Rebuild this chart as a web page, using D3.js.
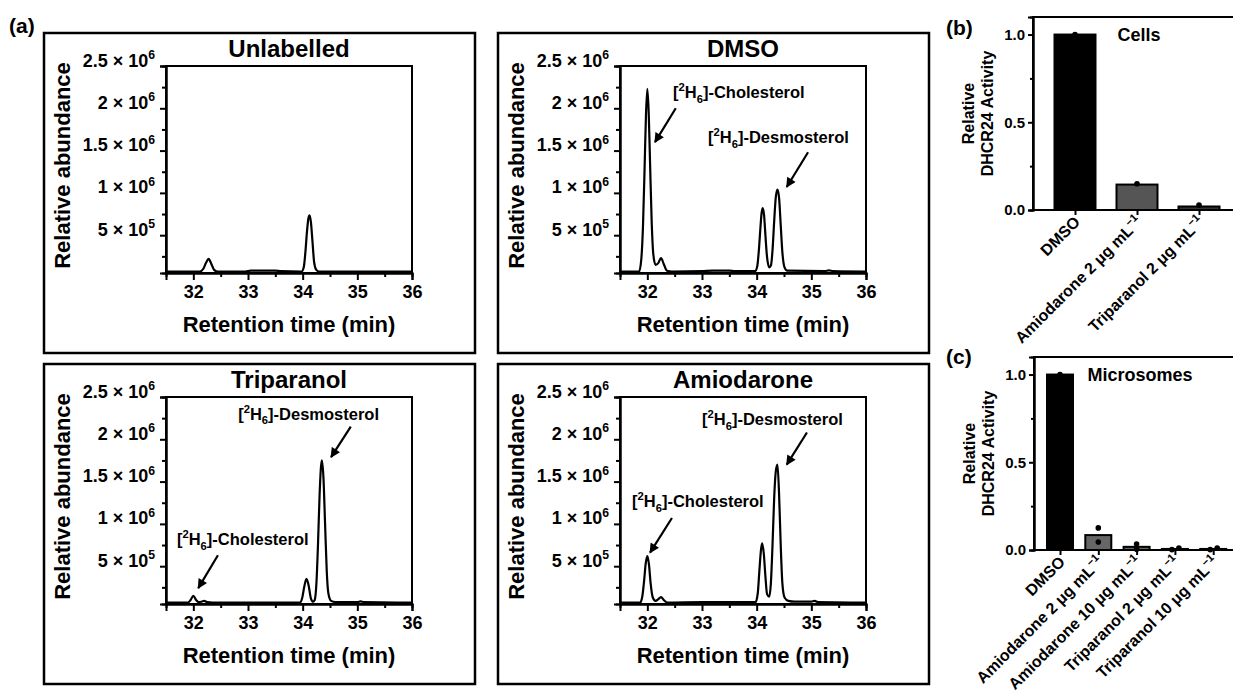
<!DOCTYPE html>
<html>
<head>
<meta charset="utf-8">
<script src="https://cdn.jsdelivr.net/npm/d3@7"></script>
<style>
  body { margin: 0; background: #fff; }
  svg { font-family: "Liberation Sans", Arial, sans-serif; font-weight: bold; }
</style>
</head>
<body>
<svg id="fig" width="1233" height="694"></svg>
<script>
// ---- data ----
// chromatogram axes (abundance in units of 10^6)
var timeTicks = [32, 33, 34, 35, 36];
var timeMinorTicks = [32.5, 33.5, 34.5, 35.5];
var abundanceTicks = [0.5, 1, 1.5, 2, 2.5];
var abundanceMinorTicks = [0.25, 0.75, 1.25, 1.75, 2.25];
var abundanceMantissa = ["5", "1", "1.5", "2", "2.5"];
var abundanceExponent = ["5", "6", "6", "6", "6"];

// traces: [retention time (min), abundance (x10^6)]
var unlabelledTrace = [[31.5,0.07],[32.12,0.07],[32.18,0.1],[32.23,0.17],[32.28,0.22],[32.33,0.16],[32.38,0.09],
  [32.44,0.07],[32.95,0.07],[33.05,0.08],[33.3,0.08],[33.5,0.08],[33.6,0.075],[33.98,0.07],[34.02,0.12],[34.05,0.3],
  [34.08,0.55],[34.105,0.7],[34.125,0.735],[34.15,0.66],[34.18,0.42],[34.21,0.18],[34.25,0.09],[34.3,0.07],[36,0.07]];
var dmsoTrace = [[31.5,0.07],[31.85,0.07],[31.89,0.22],[31.92,0.6],[31.95,1.3],[31.975,1.92],[32.0,2.23],[32.025,1.95],
  [32.05,1.35],[32.08,0.65],[32.11,0.27],[32.15,0.15],[32.2,0.17],[32.25,0.23],[32.3,0.16],[32.36,0.08],[32.45,0.07],
  [33.0,0.075],[33.2,0.08],[33.5,0.08],[33.6,0.075],[33.97,0.075],[34.01,0.13],[34.04,0.32],[34.07,0.6],[34.09,0.76],
  [34.11,0.82],[34.135,0.74],[34.16,0.5],[34.19,0.24],[34.23,0.12],[34.26,0.14],[34.29,0.32],[34.32,0.66],[34.35,0.95],
  [34.38,1.04],[34.41,0.94],[34.44,0.62],[34.47,0.3],[34.51,0.12],[34.56,0.08],[35.25,0.075],[35.32,0.085],[35.4,0.075],
  [36,0.07]];
var triparanolTrace = [[31.5,0.07],[31.9,0.07],[31.95,0.1],[32.0,0.15],[32.05,0.1],[32.1,0.075],[32.15,0.08],[32.2,0.09],
  [32.25,0.075],[32.35,0.07],[33.0,0.07],[33.95,0.07],[33.99,0.12],[34.03,0.26],[34.07,0.35],[34.11,0.27],[34.15,0.12],
  [34.19,0.08],[34.22,0.1],[34.25,0.28],[34.28,0.75],[34.31,1.35],[34.35,1.75],[34.38,1.55],[34.41,1.0],[34.44,0.45],
  [34.47,0.18],[34.52,0.09],[34.6,0.075],[35.0,0.075],[35.06,0.085],[35.12,0.075],[36,0.07]];
var amiodaroneTrace = [[31.5,0.07],[31.87,0.07],[31.91,0.15],[31.94,0.32],[31.97,0.53],[32.0,0.62],[32.03,0.52],
  [32.06,0.3],[32.1,0.13],[32.15,0.09],[32.2,0.11],[32.25,0.135],[32.3,0.1],[32.36,0.07],[33.0,0.075],[33.5,0.075],
  [33.98,0.075],[34.02,0.18],[34.05,0.45],[34.08,0.7],[34.1,0.77],[34.13,0.65],[34.16,0.38],[34.19,0.17],[34.23,0.14],
  [34.26,0.3],[34.29,0.75],[34.32,1.3],[34.35,1.62],[34.38,1.7],[34.41,1.35],[34.44,0.75],[34.47,0.3],[34.51,0.13],
  [34.58,0.09],[34.7,0.08],[35.0,0.08],[35.06,0.09],[35.12,0.075],[36,0.07]];

// DHCR24 activity bars
var activityTicks = [0, 0.5, 1.0];
var activityMinorTicks = [0.25, 0.75];
var cellsDrugs = ["DMSO", "Amiodarone", "Triparanol"];
var cellsDoses = [null, 2, 2];
var cellsActivity = [1.0, 0.145, 0.02];
var cellsReplicates = [[1.0], [0.15], [0.028]];
var microsomeDrugs = ["DMSO", "Amiodarone", "Amiodarone", "Triparanol", "Triparanol"];
var microsomeDoses = [null, 2, 10, 2, 10];
var microsomeActivity = [1.0, 0.085, 0.018, 0.006, 0.006];
var microsomeReplicates = [[1.0], [0.126, 0.046], [0.034, 0.004], [0.011, 0.002], [0.011, 0.002]];

// ---- drawing ----
var svg = d3.select("#fig");

// arrowhead
svg.append("defs").append("marker")
  .attr("id", "arrow").attr("viewBox", "0 0 10 10").attr("refX", 9).attr("refY", 5)
  .attr("markerWidth", 5).attr("markerHeight", 4.5).attr("orient", "auto")
  .attr("markerUnits", "strokeWidth")
  .append("path").attr("d", "M0,0 L10,5 L0,10 z").attr("fill", "#000");

// write text made of normal / sup / sub parts
function richText(sel, parts, fs) {
  var cur = 0;
  parts.forEach(function(p) {
    var shift = p[1] === "sup" ? -0.42 * fs : p[1] === "sub" ? 0.28 * fs : 0;
    sel.append("tspan")
      .attr("dy", shift - cur)
      .attr("font-size", p[1] ? fs * 0.68 : fs)
      .text(p[0]);
    cur = shift;
  });
}

function styleAxis(g, fs) {
  g.attr("font-family", null).attr("font-size", fs);
  g.select(".domain").attr("stroke-width", 2);
  g.selectAll(".tick line").attr("stroke-width", 2);
  g.selectAll(".tick text").attr("fill", "#000");
}

var boxW = 431, boxH = 320;
var plotX = 122, plotY = 33, plotW = 246, plotH = 207;
var x = d3.scaleLinear().domain([31.5, 36]).range([0, plotW]);
var y = d3.scaleLinear().domain([0.053, 2.5]).range([plotH, 0]);

var line = d3.line()
  .x(function(d) { return x(d[0]); })
  .y(function(d) { return y(d[1]); })
  .curve(d3.curveMonotoneX);

function compound(name) {
  return [["[", ""], ["2", "sup"], ["H", ""], ["6", "sub"], ["]-" + name, ""]];
}

function chromatogram(ox, oy, title, trace, notes) {
  var box = svg.append("g").attr("transform", "translate(" + ox + "," + oy + ")");
  box.append("rect").attr("width", boxW).attr("height", boxH)
    .attr("fill", "none").attr("stroke", "#000").attr("stroke-width", 2.5);

  var g = box.append("g").attr("transform", "translate(" + plotX + "," + plotY + ")");

  var xAxis = g.append("g").attr("transform", "translate(0," + plotH + ")")
    .call(d3.axisBottom(x).tickValues(timeTicks).tickSize(7).tickPadding(5).tickFormat(d3.format("d")));
  styleAxis(xAxis, 18);
  var xMinor = g.append("g").attr("transform", "translate(0," + plotH + ")")
    .call(d3.axisBottom(x).tickValues(timeMinorTicks).tickSize(4).tickFormat(""));
  styleAxis(xMinor, 18);

  var yAxis = g.append("g")
    .call(d3.axisLeft(y).tickValues(abundanceTicks).tickSize(6).tickPadding(5).tickFormat(""));
  styleAxis(yAxis, 18);
  yAxis.selectAll(".tick text").each(function(d, i) {
    var t = d3.select(this).attr("dy", "0.35em");
    richText(t, [[abundanceMantissa[i] + " \u00d7 10", ""], [abundanceExponent[i], "sup"]], 18);
  });
  var yMinor = g.append("g")
    .call(d3.axisLeft(y).tickValues(abundanceMinorTicks).tickSize(4).tickFormat(""));
  styleAxis(yMinor, 18);

  g.append("rect").attr("width", plotW).attr("height", plotH)
    .attr("fill", "none").attr("stroke", "#000").attr("stroke-width", 2);

  g.append("path").datum(trace).attr("d", line)
    .attr("fill", "none").attr("stroke", "#000").attr("stroke-width", 2.2).attr("stroke-linejoin", "round");

  notes.forEach(function(n) {
    var t = g.append("text").attr("x", x(n.text[0])).attr("y", y(n.text[1]));
    richText(t, compound(n.name), 16.5);
    g.append("line")
      .attr("x1", x(n.from[0])).attr("y1", y(n.from[1]))
      .attr("x2", x(n.to[0])).attr("y2", y(n.to[1]))
      .attr("stroke", "#000").attr("stroke-width", 2.2).attr("marker-end", "url(#arrow)");
  });

  box.append("text").attr("x", plotX + plotW / 2).attr("y", 24)
    .attr("text-anchor", "middle").attr("font-size", 24).text(title);
  box.append("text").attr("x", plotX + plotW / 2).attr("y", plotY + plotH + 59)
    .attr("text-anchor", "middle").attr("font-size", 22).text("Retention time (min)");
  box.append("text")
    .attr("transform", "translate(" + 26 + "," + (plotY + plotH / 2 - 4) + ") rotate(-90)")
    .attr("text-anchor", "middle").attr("font-size", 22).text("Relative abundance");
}

chromatogram(44, 33, "Unlabelled", unlabelledTrace, []);
chromatogram(498, 33, "DMSO", dmsoTrace, [
  { name: "Cholesterol", text: [32.47, 2.12], from: [32.52, 2.0], to: [32.14, 1.6] },
  { name: "Desmosterol", text: [33.11, 1.59], from: [34.94, 1.48], to: [34.55, 1.07] }
]);
chromatogram(44, 364, "Triparanol", triparanolTrace, [
  { name: "Desmosterol", text: [32.82, 2.23], from: [34.88, 2.15], to: [34.52, 1.79] },
  { name: "Cholesterol", text: [31.7, 0.75], from: [32.45, 0.63], to: [32.09, 0.24] }
]);
chromatogram(498, 364, "Amiodarone", amiodaroneTrace, [
  { name: "Desmosterol", text: [33.0, 2.17], from: [34.92, 2.08], to: [34.55, 1.7] },
  { name: "Cholesterol", text: [31.72, 1.2], from: [32.45, 1.07], to: [32.05, 0.66] }
]);

// ---- bar panels ----
var barH = 193;
var ya = d3.scaleLinear().domain([0, 1.1]).range([barH, 0]);

function barPanel(ox, oy, title, drugs, doses, activity, reps, first, step, barW, fills) {
  var g = svg.append("g").attr("transform", "translate(" + ox + "," + oy + ")");
  var xb = d3.scalePoint().domain(d3.range(drugs.length))
    .range([first, first + step * (drugs.length - 1)]);

  g.append("path").attr("d", "M0," + barH + "V0H260").attr("fill", "none")
    .attr("stroke", "#000").attr("stroke-width", 2);

  g.selectAll(".bar").data(activity).enter().append("rect")
    .attr("x", function(d, i) { return xb(i) - barW / 2; })
    .attr("y", function(d) { return ya(d); })
    .attr("width", barW)
    .attr("height", function(d) { return barH - ya(d); })
    .attr("fill", function(d, i) { return fills[i]; })
    .attr("stroke", "#000").attr("stroke-width", 2);

  var yAxis = g.append("g")
    .call(d3.axisLeft(ya).tickValues(activityTicks).tickSize(5).tickPadding(3).tickFormat(d3.format(".1f")));
  styleAxis(yAxis, 15);
  var yMinor = g.append("g").call(d3.axisLeft(ya).tickValues(activityMinorTicks).tickSize(3).tickFormat(""));
  styleAxis(yMinor, 15);

  var xAxis = g.append("g").attr("transform", "translate(0," + barH + ")")
    .call(d3.axisBottom(xb).tickSize(5).tickFormat(""));
  styleAxis(xAxis, 15);
  xAxis.select(".domain").attr("d", "M0,0H260");

  reps.forEach(function(r, i) {
    var close = r.length > 1 && Math.abs(r[0] - r[1]) < 0.02;
    r.forEach(function(v, j) {
      g.append("circle")
        .attr("cx", xb(i) + (close ? (j === 0 ? 4 : -3) : 0))
        .attr("cy", ya(v)).attr("r", 2.8).attr("fill", "#000");
    });
  });

  drugs.forEach(function(d, i) {
    var t = g.append("text").attr("text-anchor", "end").attr("font-size", 16)
      .attr("transform", "translate(" + (xb(i) + 6) + "," + (barH + 13) + ") rotate(-45)");
    if (doses[i] === null) t.text(d);
    else richText(t, [[d + " " + doses[i] + " \u03bcg mL", ""], ["\u22121", "sup"]], 16);
  });

  g.append("text").attr("x", 106).attr("y", 24).attr("text-anchor", "middle")
    .attr("font-size", 18).text(title);
  var lab = g.append("text").attr("text-anchor", "middle").attr("font-size", 16)
    .attr("transform", "translate(-56," + (barH / 2) + ") rotate(-90)");
  lab.append("tspan").attr("x", 0).attr("dy", -3).text("Relative");
  lab.append("tspan").attr("x", 0).attr("dy", 19).text("DHCR24 Activity");
}

barPanel(1033, 17, "Cells", cellsDrugs, cellsDoses, cellsActivity, cellsReplicates,
  42, 62, 41, ["#000", "#555", "#333"]);
barPanel(1034, 357, "Microsomes", microsomeDrugs, microsomeDoses, microsomeActivity, microsomeReplicates,
  26, 38.3, 26, ["#000", "#666", "#666", "#666", "#666"]);

// panel letters
svg.append("text").attr("x", 9).attr("y", 33).attr("font-size", 21).text("(a)");
svg.append("text").attr("x", 946).attr("y", 35).attr("font-size", 21).text("(b)");
svg.append("text").attr("x", 946).attr("y", 364).attr("font-size", 21).text("(c)");
</script>
</body>
</html>
